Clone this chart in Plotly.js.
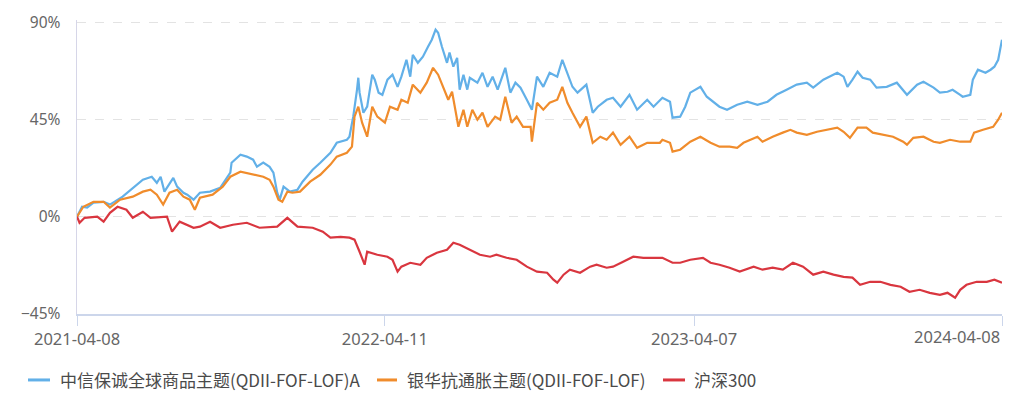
<!DOCTYPE html>
<html>
<head>
<meta charset="utf-8">
<script src="https://cdn.plot.ly/plotly-3.0.1.min.js"></script>
<style>html,body{margin:0;padding:0;background:#fff;}#chart{width:1024px;height:406px;}</style>
</head>
<body>
<div id="chart"></div>
<script>
// Series names
const seriesNames = ["中信保诚全球商品主题(QDII-FOF-LOF)A", "银华抗通胀主题(QDII-FOF-LOF)", "沪深300"];
const seriesColors = ["#62b0e8", "#f08c2c", "#d9363f"];

// x tick labels (trading-day index positions)
const tickIdx = [0, 243, 487, 730];
const tickDates = ["2021-04-08", "2022-04-11", "2023-04-07", "2024-04-08"];

// Series 1: trading-day index and cumulative return (%)
const blueT = [0,4,8,13,21,26,36,44,52,59,63,66,69,76,79,84,87,92,97,105,113,121,122,129,134,139,142,147,152,155,158,160,163,168,174,178,186,192,200,205,213,215,218,221,222,223,226,229,233,235,238,241,245,249,253,256,260,263,265,269,273,277,280,283,285,288,292,294,297,300,302,305,308,310,316,320,324,328,332,338,342,346,350,355,359,363,368,373,379,383,387,391,395,402,407,411,418,423,429,436,442,450,455,462,468,470,476,480,484,492,497,502,507,513,521,529,537,545,552,560,568,576,581,589,600,605,608,612,616,620,626,631,639,647,655,663,668,676,681,687,691,697,699,705,707,711,717,721,724,727,730];
const blueV = [0,4.6,4.2,6.5,6.9,5.6,9.3,13.4,17.1,18.5,15.7,18.5,11.6,18.0,13.9,11.1,10.2,7.9,11.1,11.6,13.4,20.4,25.0,28.7,27.8,26.4,23.1,25.0,23.1,20.4,11.1,7.9,13.9,11.6,12.5,16.2,21.7,25.0,29.6,34.2,35.6,37.0,46.3,58.8,64.3,57.4,48.1,50.9,65.7,63.4,57.4,56.4,63.4,65.7,60.1,64.8,72.6,64.8,74.9,71.2,74.0,78.6,81.9,86.5,85.1,78.6,71.2,75.9,69.4,73.5,58.8,65.7,58.8,64.3,62.0,66.6,60.1,64.8,58.8,68.9,57.4,62.0,59.7,54.1,49.5,64.8,60.1,66.6,64.8,72.6,66.6,60.1,57.4,61.1,48.1,50.9,54.1,55.0,50.9,56.4,49.5,54.1,50.9,55.0,53.2,45.8,46.3,50.9,57.4,60.1,55.5,53.2,50.9,49.5,51.8,53.2,51.8,53.2,56.4,58.7,61.1,62.0,59.7,63.4,66.6,64.8,60.1,63.4,67.1,64.3,63.4,59.7,60.1,62.0,56.4,61.1,62.4,59.7,57.4,57.8,58.7,56.4,55.5,56.4,63.4,68.0,66.6,68.0,69.4,72.6,81.9];

// Series 2
const orangeT = [0,5,13,21,26,34,44,52,58,63,68,73,79,84,89,93,97,107,115,121,129,139,147,152,155,159,162,166,170,176,184,192,200,205,213,217,219,222,225,229,233,237,243,247,253,256,261,265,271,276,281,285,290,293,296,301,305,308,312,316,320,324,330,334,338,343,347,352,358,359,363,368,373,379,383,387,391,397,402,407,413,418,423,429,436,442,450,460,462,468,470,476,484,492,500,507,515,521,526,537,541,549,557,563,568,576,584,592,600,605,610,616,623,628,636,644,652,655,660,668,676,681,689,697,705,708,715,723,727,730];
const orangeV = [0,4.6,6.9,6.9,4.2,7.9,9.3,11.6,12.5,10.2,5.6,11.1,12.5,9.3,7.9,3.2,8.8,10.2,13.9,18.5,20.8,19.4,18.5,17.1,13.9,7.9,6.9,11.6,11.1,11.6,16.2,19.4,24.1,27.8,29.6,32.4,46.3,50.9,43.5,37.0,50.9,46.3,43.5,50.9,49.5,54.1,52.7,61.1,57.4,62.0,68.9,65.7,58.7,54.1,57.8,41.6,49.5,41.6,49.5,44.9,48.1,41.6,46.3,44.9,55.5,43.5,46.3,41.6,41.6,34.7,52.7,49.5,52.7,54.1,60.1,52.7,48.1,41.6,46.3,34.2,37.0,35.6,38.9,33.3,37.0,31.9,34.2,34.2,35.6,34.2,30.1,31.0,34.7,37.0,34.2,32.4,32.4,31.9,34.2,37.0,34.7,37.0,38.9,40.2,38.9,37.9,39.3,40.2,41.2,39.3,36.5,41.2,41.2,38.9,37.9,37.0,34.7,33.3,36.5,37.0,34.7,34.2,35.6,34.7,34.7,38.9,40.2,41.6,44.9,48.1];

// Series 3
const redT = [0,2,6,16,21,26,32,39,44,52,58,71,75,81,92,97,105,113,123,134,144,158,166,174,186,194,200,208,215,219,223,227,229,237,245,249,253,256,263,271,276,284,292,297,302,310,318,326,331,339,347,355,363,371,376,379,384,389,397,405,410,418,423,431,439,447,455,462,470,476,484,494,500,507,515,523,534,541,549,557,565,573,581,589,597,605,612,618,626,634,642,650,657,665,673,681,687,693,697,702,710,718,724,730];
const redV = [0,-2.8,-0.5,0,-2.3,1.8,4.6,3.2,-0.5,2.3,-0.5,0,-6.9,-2.3,-5.1,-4.6,-2.3,-5.1,-3.7,-2.8,-5.1,-4.6,-0.5,-4.6,-5.1,-6.9,-9.7,-9.3,-9.7,-10.6,-16.2,-22.2,-16.2,-17.6,-18.5,-19.9,-25.4,-23.1,-21.3,-22.2,-19.0,-16.7,-15.3,-12.0,-13.0,-15.3,-17.6,-18.5,-17.6,-19.0,-19.9,-23.1,-25.4,-25.9,-29.1,-30.5,-26.8,-24.5,-25.9,-23.1,-22.2,-23.6,-23.1,-20.8,-18.5,-19.0,-19.0,-19.0,-21.3,-21.3,-19.9,-19.0,-21.3,-22.2,-23.6,-25.4,-23.1,-24.5,-23.6,-24.5,-21.3,-23.1,-26.8,-25.4,-26.8,-27.8,-28.2,-31.5,-30.1,-30.1,-31.5,-32.4,-34.7,-33.8,-35.2,-36.1,-35.2,-37.5,-33.8,-31.5,-30.1,-30.1,-29.1,-30.5];

// y ticks
const yTicks = [-45, 0, 45, 90];
const yTickText = ["\u221245%", "0%", "45%", "90%"];

const W = 1024, H = 406;
const M = {l: 77, r: 22, t: 19.8, b: 92};
const PW = W - M.l - M.r, PH = H - M.t - M.b;
const px = x => (x - M.l) / PW;
const py = y => (H - M.b - y) / PH;

const xs = [blueT, orangeT, redT];
const ys = [blueV, orangeV, redV];
const traces = seriesNames.map((n, i) => ({
  type: 'scatter', mode: 'lines', name: n,
  x: xs[i], y: ys[i],
  line: {color: seriesColors[i], width: 2.2},
  hoverinfo: 'skip'
}));

// last date label right-aligned to the plot end (drawn as annotation)
const tickText = tickDates.map((d, i) => i === tickDates.length - 1 ? '' : d);
const tickFont = {family: 'Noto Sans, sans-serif', size: 16.5, color: '#666'};

const shapes = [];
const annotations = [{
  xref: 'paper', yref: 'paper', x: 1, y: py(337), xanchor: 'right', yanchor: 'middle',
  text: tickDates[tickDates.length - 1], showarrow: false, font: tickFont
}];

// Custom legend
const legY = py(380);
const legItems = [
  {seg: [28, 50], txt: 58},
  {seg: [377, 397], txt: 405},
  {seg: [663, 685], txt: 692}
];
legItems.forEach((it, i) => {
  shapes.push({type: 'line', xref: 'paper', yref: 'paper', x0: px(it.seg[0]), x1: px(it.seg[1]), y0: legY, y1: legY,
    line: {color: seriesColors[i], width: 3}});
  annotations.push({xref: 'paper', yref: 'paper', x: px(it.txt), y: legY, xanchor: 'left', yanchor: 'middle',
    text: seriesNames[i], showarrow: false,
    font: {family: 'Noto Sans CJK SC, Noto Sans, sans-serif', size: 17, color: '#4a4a4a'}});
});

const layout = {
  width: W, height: H,
  margin: M,
  paper_bgcolor: '#fff', plot_bgcolor: '#fff',
  showlegend: false,
  font: {family: 'Noto Sans, Noto Sans CJK SC, sans-serif', color: '#666'},
  xaxis: {
    type: 'linear', range: [0, 730],
    tickvals: tickIdx, ticktext: tickText,
    ticks: 'outside', ticklen: 10, tickcolor: '#ccd6eb', tickwidth: 1,
    showgrid: false, zeroline: false,
    showline: true, linecolor: '#ccd6eb', linewidth: 1.5,
    tickfont: tickFont,
    automargin: false
  },
  yaxis: {
    range: [-45, 91],
    tickvals: yTicks, ticktext: yTickText,
    showgrid: true, gridcolor: '#e3e3e3', griddash: 'dash', gridwidth: 1,
    zeroline: false,
    showline: true, linecolor: '#d6d6e8', linewidth: 1.5,
    ticks: '', ticklabelstandoff: 12,
    tickfont: {family: 'Noto Sans, sans-serif', size: 15.5, color: '#666'},
    automargin: false
  },
  shapes: shapes,
  annotations: annotations
};

Plotly.newPlot('chart', traces, layout, {displayModeBar: false, staticPlot: true});
</script>
</body>
</html>
